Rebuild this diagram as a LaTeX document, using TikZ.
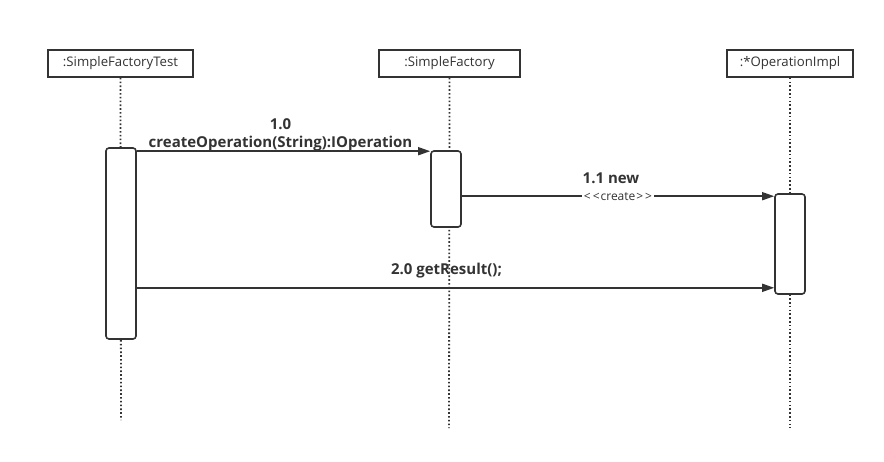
\documentclass[tikz,border=0pt]{standalone}
\usepackage{fontspec}
\setmainfont{Open Sans}
\usetikzlibrary{positioning,arrows.meta}
\definecolor{umlgray}{HTML}{333333}

\begin{document}
\begin{tikzpicture}[%
    x=1pt,
    y=-1pt,
    >={Triangle[length=12pt,width=8pt]},
    object/.style={%
      draw=umlgray,
      line width=1.6pt,
      minimum height=27pt,
      inner sep=0pt,
      text=umlgray,
      font=\fontsize{13.2}{15}\selectfont
    },
    lifeline/.style={%
      umlgray,
      line width=1.8pt,
      dash pattern=on 1.6pt off 2.2pt
    },
    activation/.style={%
      draw=umlgray,
      fill=white,
      line width=1.6pt,
      rounded corners=3pt,
      minimum width=30pt,
      inner sep=0pt
    },
    msg/.style={->, umlgray, line width=1.6pt},
    msglabel/.style={%
      text=umlgray,
      inner sep=0pt,
      font=\bfseries\fontsize{15}{18}\selectfont
    }
  ]
    \useasboundingbox (0,0) rectangle (884,461);

    % objects
    \node[object, minimum width=145pt] (test)    at (120.5,63.5) {:SimpleFactoryTest};
    \node[object, minimum width=141pt] (factory) at (449.5,63.5) {:SimpleFactory};
    \node[object, minimum width=126pt] (impl)    at (790,63.5)   {:*OperationImpl};

    \coordinate (testend)    at (121,420);
    \coordinate (factoryend) at (449,428);
    \coordinate (implend)    at (790,428);

    % lifelines
    \draw[lifeline] (test.south)    -- (testend);
    \draw[lifeline] (factory.south) -- (factoryend);
    \draw[lifeline] (impl.south)    -- (implend);

    % activations
    \node[activation, minimum height=191pt] (acttest)    at (121,243.5) {};
    \node[activation, minimum height=76pt]  (actfactory) at (446,189)   {};
    \node[activation, minimum height=100pt] (actimpl)    at (790,244)   {};

    % messages
    \draw[msg] ([yshift=-4pt]acttest.north east) coordinate (m1) -- (m1 -| actfactory.west)
      node[midway, align=center, msglabel, xshift=-3pt, yshift=16pt] {1.0\\createOperation(String):IOperation};
    \draw[msg, <-] ([yshift=-3pt]actimpl.north west) coordinate (m2) -- (m2 -| actfactory.east)
      node[midway, msglabel, xshift=-7pt, yshift=18pt] {1.1 new}
      node[midway, fill=white, inner sep=1.5pt, text=umlgray, font=\fontsize{12}{14}\selectfont] {<\kern2pt<\kern1pt create\kern1pt>\kern2pt>};
    \draw[msg, <-] ([yshift=7pt]actimpl.south west) coordinate (m3) -- (m3 -| acttest.east)
      node[midway, msglabel, xshift=-9pt, yshift=17pt] {2.0 getResult();};
\end{tikzpicture}
\end{document}
